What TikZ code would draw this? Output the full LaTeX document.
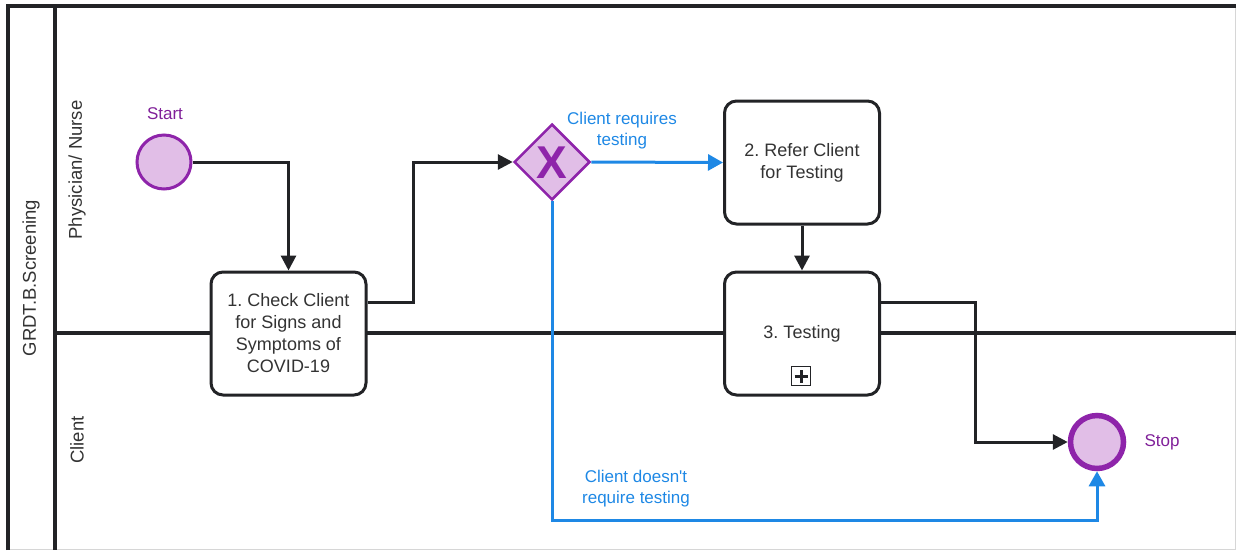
\documentclass[tikz,border=0pt]{standalone}
\usepackage{fontspec}
\setmainfont{Liberation Sans}
\frenchspacing
\usetikzlibrary{arrows.meta,shapes.geometric}
\definecolor{ink}{HTML}{222326}
\definecolor{txt}{HTML}{333333}
\definecolor{bpurple}{HTML}{8E24AA}
\definecolor{bfill}{HTML}{E1BEE7}
\definecolor{bblue}{HTML}{1E88E5}
\definecolor{edge}{HTML}{D6D6D6}

\begin{document}
\begin{tikzpicture}[x=1pt,y=-1pt,
  task/.style={draw=ink, line width=3pt, rounded corners=12pt, fill=white,
    minimum width=155pt, minimum height=123pt, align=center, inner sep=4pt,
    font=\fontsize{18}{22}\selectfont, text=txt},
  startev/.style={circle, draw=bpurple, fill=bfill, line width=3pt,
    minimum size=54pt, inner sep=0pt},
  endev/.style={circle, draw=bpurple, fill=bfill, line width=5.5pt,
    minimum size=53pt, inner sep=0pt},
  gate/.style={diamond, draw=bpurple, fill=bfill, line width=2.5pt,
    minimum width=76pt, minimum height=76pt, inner sep=0pt},
  flow/.style={draw=ink, line width=3pt, -{Triangle[length=15pt,width=15pt]}},
  cond/.style={draw=bblue, line width=3pt, -{Triangle[length=15pt,width=16pt]}},
  evlab/.style={font=\fontsize{17}{20}\selectfont, text=bpurple!90!black},
  condlab/.style={font=\fontsize{17}{21}\selectfont, text=bblue, align=center},
  lanelab/.style={font=\fontsize{18.5}{20}\selectfont, text=txt, rotate=90},
  lane/.style={line width=3.5pt, draw=ink}
]
\useasboundingbox (0,0) rectangle (1236,550);

% pool and lanes
\draw[edge, line width=1pt] (1235.5,6) -- (1235.5,549.5) -- (8,549.5);
\draw[lane] (8,550) -- (8,6) -- (1236,6);
\draw[lane] (55,6) -- (55,550);
\draw[lane] (55,333) -- (1236,333);
\node[lanelab] (pool) at (31,278) {GRDT.B.Screening};
\node[lanelab] (laneA) at (77,170) {Physician/ Nurse};
\node[lanelab] (laneB) at (77,440) {Client};

% events, tasks and gateway
\node[startev] (start) at (164,162) {};
\node[evlab] (startlab) at (165,114) {Start};
\node[task] (t1) at (288.5,333.5) {1. Check Client\\for Signs and\\Symptoms of\\COVID-19};
\node[gate] (gw) at (552,162) {};
\node[font=\fontsize{46}{46}\selectfont\bfseries, text=bpurple] (gwx) at (552,163) {X};
\node[task] (t2) at (802,162.5) {2. Refer Client\\for Testing};
\node[task] (t3) at (802,333.5) {3. Testing};
\node[draw=ink, line width=1.5pt, minimum size=19pt, inner sep=0pt] (t3m) at (801,376) {};
\draw[ink, line width=3pt] ([xshift=-6.5pt]t3m.center) -- ([xshift=6.5pt]t3m.center)
  ([yshift=-6.5pt]t3m.center) -- ([yshift=6.5pt]t3m.center);
\node[endev] (stop) at (1097,442) {};
\node[evlab] (stoplab) at (1162,442) {Stop};

% sequence flows
\draw[flow] (start.east) -| (t1.north);
\draw[flow] ([yshift=31.5pt]t1.east) -- ++(46,0) |- (gw.west);
\draw[cond] (gw.east) -- (t2.west);
\draw[flow] (t2.south) -- (t3.north);
\draw[flow] ([yshift=31.5pt]t3.east) -- ++(94,0) |- (stop.west);
\draw[cond] (gw.south) -- ++(0,319) -| (stop.south);

% condition labels
\node[condlab] (yeslab) at (622,131) {Client requires\\testing};
\node[condlab] (nolab) at (636,489) {Client doesn\textquotesingle t\\require testing};
\end{tikzpicture}
\end{document}
